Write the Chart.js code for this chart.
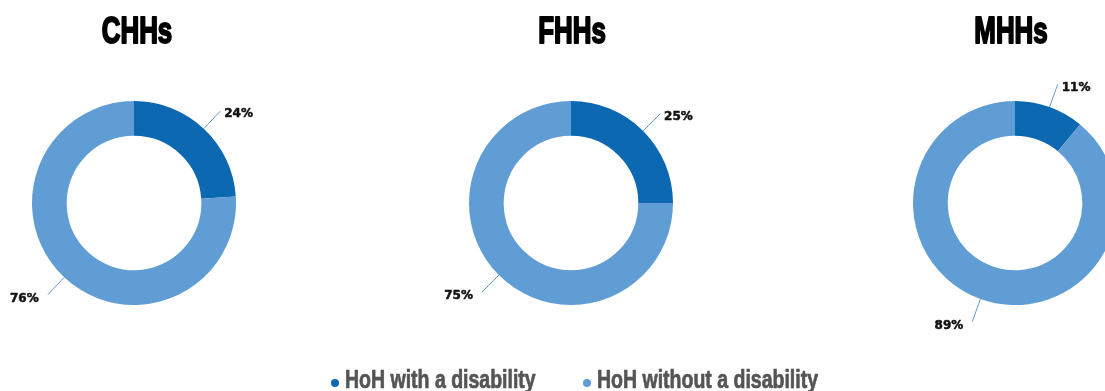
<!DOCTYPE html>
<html>
<head>
<meta charset="utf-8">
<script src="https://cdn.jsdelivr.net/npm/chart.js@4/dist/chart.umd.min.js"></script>
<style>
  html, body { margin: 0; padding: 0; background: #fff; }
  body { width: 1105px; height: 391px; position: relative; overflow: hidden; }
  .donut { position: absolute; top: 0; width: 268px; height: 391px; }
  .leyenda { position: absolute; top: 367px; height: 25px; line-height: 25px;
    font-family: "Liberation Sans", Arial, sans-serif; font-weight: bold;
    font-size: 25px; color: #555; white-space: nowrap; }
  .leyenda .punto { display: inline-block; width: 8px; height: 8px; border-radius: 50%;
    margin-right: 6px; vertical-align: 1px; }
  .leyenda .texto { display: inline-block; transform: scaleX(0.78); transform-origin: left center;
    -webkit-text-stroke: 0.7px #555; }
</style>
</head>
<body>
<div class="donut" style="left:0px"><canvas id="chhs"></canvas></div>
<div class="donut" style="left:437px"><canvas id="fhhs"></canvas></div>
<div class="donut" style="left:881px"><canvas id="mhhs"></canvas></div>

<div class="leyenda" style="left:331px"><span class="punto" style="background:#0b68b1"></span><span class="texto">HoH with a disability</span></div>
<div class="leyenda" style="left:583px"><span class="punto" style="background:#5f9dd4"></span><span class="texto">HoH without a disability</span></div>

<script>
// categorias y valores (% de hogares)
const categorias = ['HoH with a disability', 'HoH without a disability'];
const titulos = ['CHHs', 'FHHs', 'MHHs'];
const valoresCHHs = [24, 76];
const valoresFHHs = [25, 75];
const valoresMHHs = [11, 89];
const colores = ['#0b68b1', '#5f9dd4'];

// titulo en letra condensada (no hay fuente narrow, se comprime en x)
const tituloCondensado = {
  id: 'tituloCondensado',
  afterDraw(chart, args, opts) {
    const ctx = chart.ctx;
    const cx = (chart.chartArea.left + chart.chartArea.right) / 2 + (opts.dx || 0);
    ctx.save();
    ctx.translate(cx, opts.y);
    ctx.scale(0.7, 1);
    ctx.font = 'bold 37px "Liberation Sans", Arial, sans-serif';
    ctx.fillStyle = '#000';
    ctx.strokeStyle = '#000';
    ctx.lineWidth = 2;
    ctx.lineJoin = 'round';
    ctx.textAlign = 'center';
    ctx.textBaseline = 'alphabetic';
    ctx.fillText(opts.text, 0, 0);
    ctx.strokeText(opts.text, 0, 0);
    ctx.restore();
  }
};

// etiquetas de porcentaje con linea guia hacia afuera del anillo
const etiquetasFuera = {
  id: 'etiquetasFuera',
  afterDatasetsDraw(chart) {
    const ctx = chart.ctx;
    const meta = chart.getDatasetMeta(0);
    const valores = chart.data.datasets[0].data;
    ctx.save();
    ctx.font = 'bold 12px "DejaVu Sans", sans-serif';
    ctx.lineJoin = 'round';
    ctx.textBaseline = 'middle';
    meta.data.forEach((arco, i) => {
      const p = arco.getProps(['x', 'y', 'startAngle', 'endAngle', 'outerRadius'], true);
      const a = (p.startAngle + p.endAngle) / 2;
      const r1 = p.outerRadius, r2 = p.outerRadius + 24;
      const x1 = p.x + Math.cos(a) * r1, y1 = p.y + Math.sin(a) * r1;
      const x2 = p.x + Math.cos(a) * r2, y2 = p.y + Math.sin(a) * r2;
      ctx.strokeStyle = '#5f9dd4';
      ctx.lineWidth = 1;
      ctx.beginPath();
      ctx.moveTo(x1, y1);
      ctx.lineTo(x2, y2);
      ctx.stroke();
      const texto = valores[i] + '%';
      let tx, ty;
      if (Math.cos(a) >= 0) {
        ctx.textAlign = 'left';
        tx = x2 + 4; ty = y2 + 3;
      } else {
        ctx.textAlign = 'right';
        tx = x2 - 9; ty = y2 + 4;
      }
      ctx.fillStyle = '#111';
      ctx.strokeStyle = '#111';
      ctx.lineWidth = 0.5;
      ctx.fillText(texto, tx, ty);
      ctx.strokeText(texto, tx, ty);
    });
    ctx.restore();
  }
};

function crearDona(id, titulo, valores, dx) {
  return new Chart(document.getElementById(id), {
    type: 'doughnut',
    data: {
      labels: categorias,
      datasets: [{
        data: valores,
        backgroundColor: colores,
        borderWidth: 0
      }]
    },
    options: {
      responsive: true,
      maintainAspectRatio: false,
      animation: false,
      radius: 102,
      cutout: '66%',
      layout: { padding: { top: 60, bottom: 45, left: 0, right: 0 } },
      plugins: {
        legend: { display: false },
        tooltip: { enabled: false },
        title: { display: false },
        tituloCondensado: { text: titulo, y: 43, dx: dx }
      }
    },
    plugins: [etiquetasFuera, tituloCondensado]
  });
}

crearDona('chhs', titulos[0], valoresCHHs, 3);
crearDona('fhhs', titulos[1], valoresFHHs, 1);
crearDona('mhhs', titulos[2], valoresMHHs, -4);
</script>
</body>
</html>
